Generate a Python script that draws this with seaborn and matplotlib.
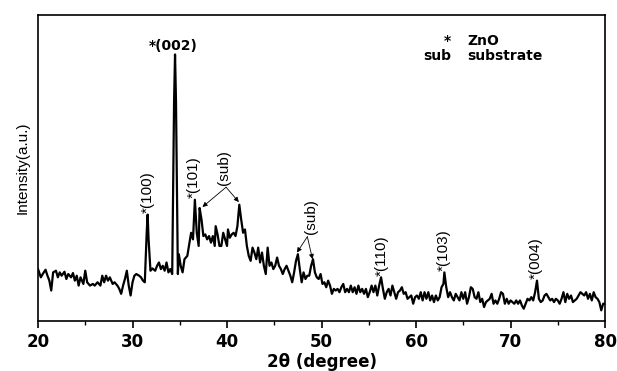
import matplotlib
matplotlib.use('Agg')
import matplotlib.pyplot as plt
import pandas as pd
import seaborn as sns

# XRD pattern (2theta in degrees, intensity in arbitrary units)
two_theta = [
    20.0, 20.3, 20.5, 20.8, 21.0, 21.2, 21.4, 21.6, 21.9, 22.1, 22.3, 22.5, 22.8, 23.0, 23.2, 23.5,
    23.7, 23.9, 24.1, 24.3, 24.5, 24.8, 25.0, 25.2, 25.5, 25.8, 26.0, 26.3, 26.6, 26.8, 27.0, 27.2,
    27.4, 27.6, 27.9, 28.1, 28.4, 28.6, 28.8, 29.0, 29.2, 29.4, 29.6, 29.8, 30.0, 30.2, 30.4, 30.7,
    30.9, 31.1, 31.3, 31.5, 31.6, 31.7, 31.9, 32.1, 32.4, 32.6, 32.8, 33.0, 33.2, 33.4, 33.6, 33.8,
    34.0, 34.2, 34.4, 34.5, 34.6, 34.8, 34.9, 35.1, 35.3, 35.5, 35.8, 36.0, 36.2, 36.4, 36.6, 36.8,
    37.0, 37.1, 37.3, 37.5, 37.7, 37.9, 38.1, 38.3, 38.5, 38.7, 38.8, 39.0, 39.2, 39.4, 39.6, 39.8,
    40.0, 40.1, 40.3, 40.5, 40.7, 40.9, 41.1, 41.3, 41.5, 41.7, 41.9, 42.1, 42.3, 42.5, 42.7, 42.9,
    43.1, 43.3, 43.5, 43.7, 43.9, 44.1, 44.3, 44.5, 44.7, 44.9, 45.1, 45.3, 45.5, 45.7, 45.9, 46.1,
    46.3, 46.5, 46.7, 46.9, 47.1, 47.3, 47.5, 47.7, 47.9, 48.1, 48.3, 48.5, 48.7, 48.9, 49.1, 49.3,
    49.5, 49.7, 49.9, 50.1, 50.3, 50.5, 50.7, 50.9, 51.1, 51.3, 51.5, 51.7, 51.9, 52.1, 52.3, 52.5,
    52.7, 52.9, 53.1, 53.3, 53.5, 53.7, 53.9, 54.1, 54.3, 54.5, 54.7, 54.9, 55.1, 55.3, 55.5, 55.7,
    55.9, 56.1, 56.3, 56.5, 56.7, 56.9, 57.1, 57.3, 57.5, 57.7, 57.9, 58.1, 58.3, 58.5, 58.7, 58.9,
    59.1, 59.3, 59.5, 59.7, 59.9, 60.1, 60.3, 60.5, 60.7, 60.9, 61.1, 61.3, 61.5, 61.7, 61.9, 62.1,
    62.3, 62.5, 62.7, 62.9, 63.0, 63.2, 63.4, 63.6, 63.8, 64.0, 64.2, 64.4, 64.6, 64.8, 65.0, 65.2,
    65.4, 65.6, 65.8, 66.0, 66.2, 66.4, 66.6, 66.8, 67.0, 67.2, 67.4, 67.6, 67.8, 68.0, 68.2, 68.4,
    68.6, 68.8, 69.0, 69.2, 69.4, 69.6, 69.8, 70.0, 70.2, 70.4, 70.6, 70.8, 71.0, 71.2, 71.4, 71.6,
    71.8, 72.0, 72.2, 72.4, 72.6, 72.8, 73.0, 73.2, 73.4, 73.6, 73.8, 74.0, 74.2, 74.4, 74.6, 74.8,
    75.0, 75.2, 75.4, 75.6, 75.8, 76.0, 76.2, 76.4, 76.6, 76.8, 77.0, 77.2, 77.4, 77.6, 77.8, 78.0,
    78.2, 78.4, 78.6, 78.8, 79.0, 79.2, 79.4, 79.6, 79.8, 80.0,
]
intensity = [
    157, 132, 142, 155, 137, 122, 92, 147, 152, 132, 147, 137, 149, 127, 142, 132,
    145, 122, 137, 107, 132, 112, 152, 117, 107, 112, 107, 117, 107, 137, 117, 137,
    122, 132, 112, 117, 107, 97, 82, 107, 127, 152, 107, 77, 117, 137, 142, 137,
    132, 122, 117, 267, 322, 247, 152, 159, 152, 167, 177, 157, 167, 152, 177, 147,
    157, 142, 667, 807, 667, 142, 202, 167, 147, 187, 197, 232, 267, 247, 367, 267,
    227, 342, 307, 257, 262, 247, 257, 237, 257, 227, 287, 262, 227, 227, 267, 247,
    227, 277, 252, 262, 267, 257, 287, 352, 307, 267, 277, 227, 197, 182, 222, 207,
    187, 222, 177, 207, 167, 142, 222, 167, 177, 157, 167, 192, 167, 157, 142, 157,
    167, 152, 137, 117, 147, 182, 202, 157, 117, 147, 127, 137, 137, 167, 187, 147,
    132, 127, 142, 112, 117, 102, 122, 107, 82, 97, 92, 97, 87, 102, 112, 87,
    97, 87, 107, 87, 102, 82, 107, 87, 97, 82, 97, 72, 87, 107, 87, 107,
    77, 107, 132, 97, 67, 87, 97, 77, 107, 87, 67, 87, 92, 102, 82, 87,
    67, 72, 77, 52, 72, 77, 67, 87, 62, 87, 67, 87, 62, 77, 57, 77,
    62, 72, 102, 112, 147, 102, 72, 87, 72, 62, 82, 72, 62, 87, 67, 87,
    52, 72, 102, 97, 72, 67, 87, 57, 67, 42, 57, 62, 67, 82, 52, 62,
    52, 67, 87, 82, 52, 67, 52, 62, 57, 52, 62, 52, 62, 47, 37, 52,
    67, 62, 72, 62, 87, 122, 67, 57, 62, 77, 82, 72, 62, 67, 57, 67,
    62, 52, 67, 87, 57, 82, 67, 77, 57, 62, 67, 77, 87, 82, 77, 87,
    67, 82, 62, 87, 72, 67, 57, 32, 52, 52,
]

# ZnO reflections: label, 2theta, label base height
zno_labels = ['(100)', '(101)', '(110)', '(103)', '(004)']
zno_pos = [31.6, 36.5, 56.35, 62.95, 72.65]
zno_height = [327, 372, 137, 152, 127]

df = pd.DataFrame({'two_theta': two_theta, 'intensity': intensity})

sns.set_style('ticks')
plt.rcParams['font.family'] = ['DejaVu Sans']
plt.rcParams['text.color'] = 'black'
plt.rcParams['axes.labelcolor'] = 'black'
plt.rcParams['axes.edgecolor'] = 'black'
plt.rcParams['xtick.color'] = 'black'

fig = plt.figure(figsize=(6.17, 3.71), dpi=100)
ax = fig.add_axes([0.0616, 0.135, 0.919, 0.825])

sns.lineplot(data=df, x='two_theta', y='intensity', ax=ax, color='black', linewidth=1.6)

ax.set_xlim(20, 80)
ax.set_ylim(0, 927)
ax.set_xticks([20, 30, 40, 50, 60, 70, 80])
ax.set_xticks([25, 35, 45, 55, 65, 75], minor=True)
ax.set_yticks([])
ax.tick_params(axis='x', which='major', direction='out', length=5, width=1.2, labelsize=12, pad=4)
ax.tick_params(axis='x', which='minor', direction='out', length=3, width=1.0)
for lbl in ax.get_xticklabels():
    lbl.set_fontweight('bold')
for sp in ax.spines.values():
    sp.set_linewidth(1.2)
    sp.set_visible(True)

ax.set_xlabel('2θ (degree)', fontsize=12, fontweight='bold', labelpad=1)
ax.set_ylabel('Intensity(a.u.)', fontsize=11, family='Liberation Sans', labelpad=6)

# peak labels
ax.text(34.3, 832, '*(002)', ha='center', va='center', fontsize=10, fontweight='bold')
for lab, xp, yp in zip(zno_labels, zno_pos, zno_height):
    ax.text(xp, yp, '*' + lab, rotation=90, ha='center', va='bottom',
            fontsize=11, family='Liberation Sans')

# substrate peaks with arrows
arrow = dict(arrowstyle='-|>', color='black', lw=0.6, mutation_scale=7, shrinkA=0, shrinkB=0)
ax.text(39.7, 412, '(sub)', rotation=90, ha='center', va='bottom', fontsize=11, family='Liberation Sans')
ax.annotate('', xy=(37.4, 345), xytext=(39.9, 405), arrowprops=arrow)
ax.annotate('', xy=(41.25, 360), xytext=(39.9, 405), arrowprops=arrow)
ax.text(48.85, 262, '(sub)', rotation=90, ha='center', va='bottom', fontsize=11, family='Liberation Sans')
ax.annotate('', xy=(47.4, 207), xytext=(48.5, 255), arrowprops=arrow)
ax.annotate('', xy=(49.05, 187), xytext=(48.5, 255), arrowprops=arrow)

# key in the upper right
ax.text(63.7, 847, '*', ha='right', va='center', fontsize=10, fontweight='bold')
ax.text(65.4, 847, 'ZnO', ha='left', va='center', fontsize=10, fontweight='bold')
ax.text(63.7, 802, 'sub', ha='right', va='center', fontsize=10, fontweight='bold')
ax.text(65.4, 802, 'substrate', ha='left', va='center', fontsize=10, fontweight='bold')

fig.savefig('out.png', dpi=100)
